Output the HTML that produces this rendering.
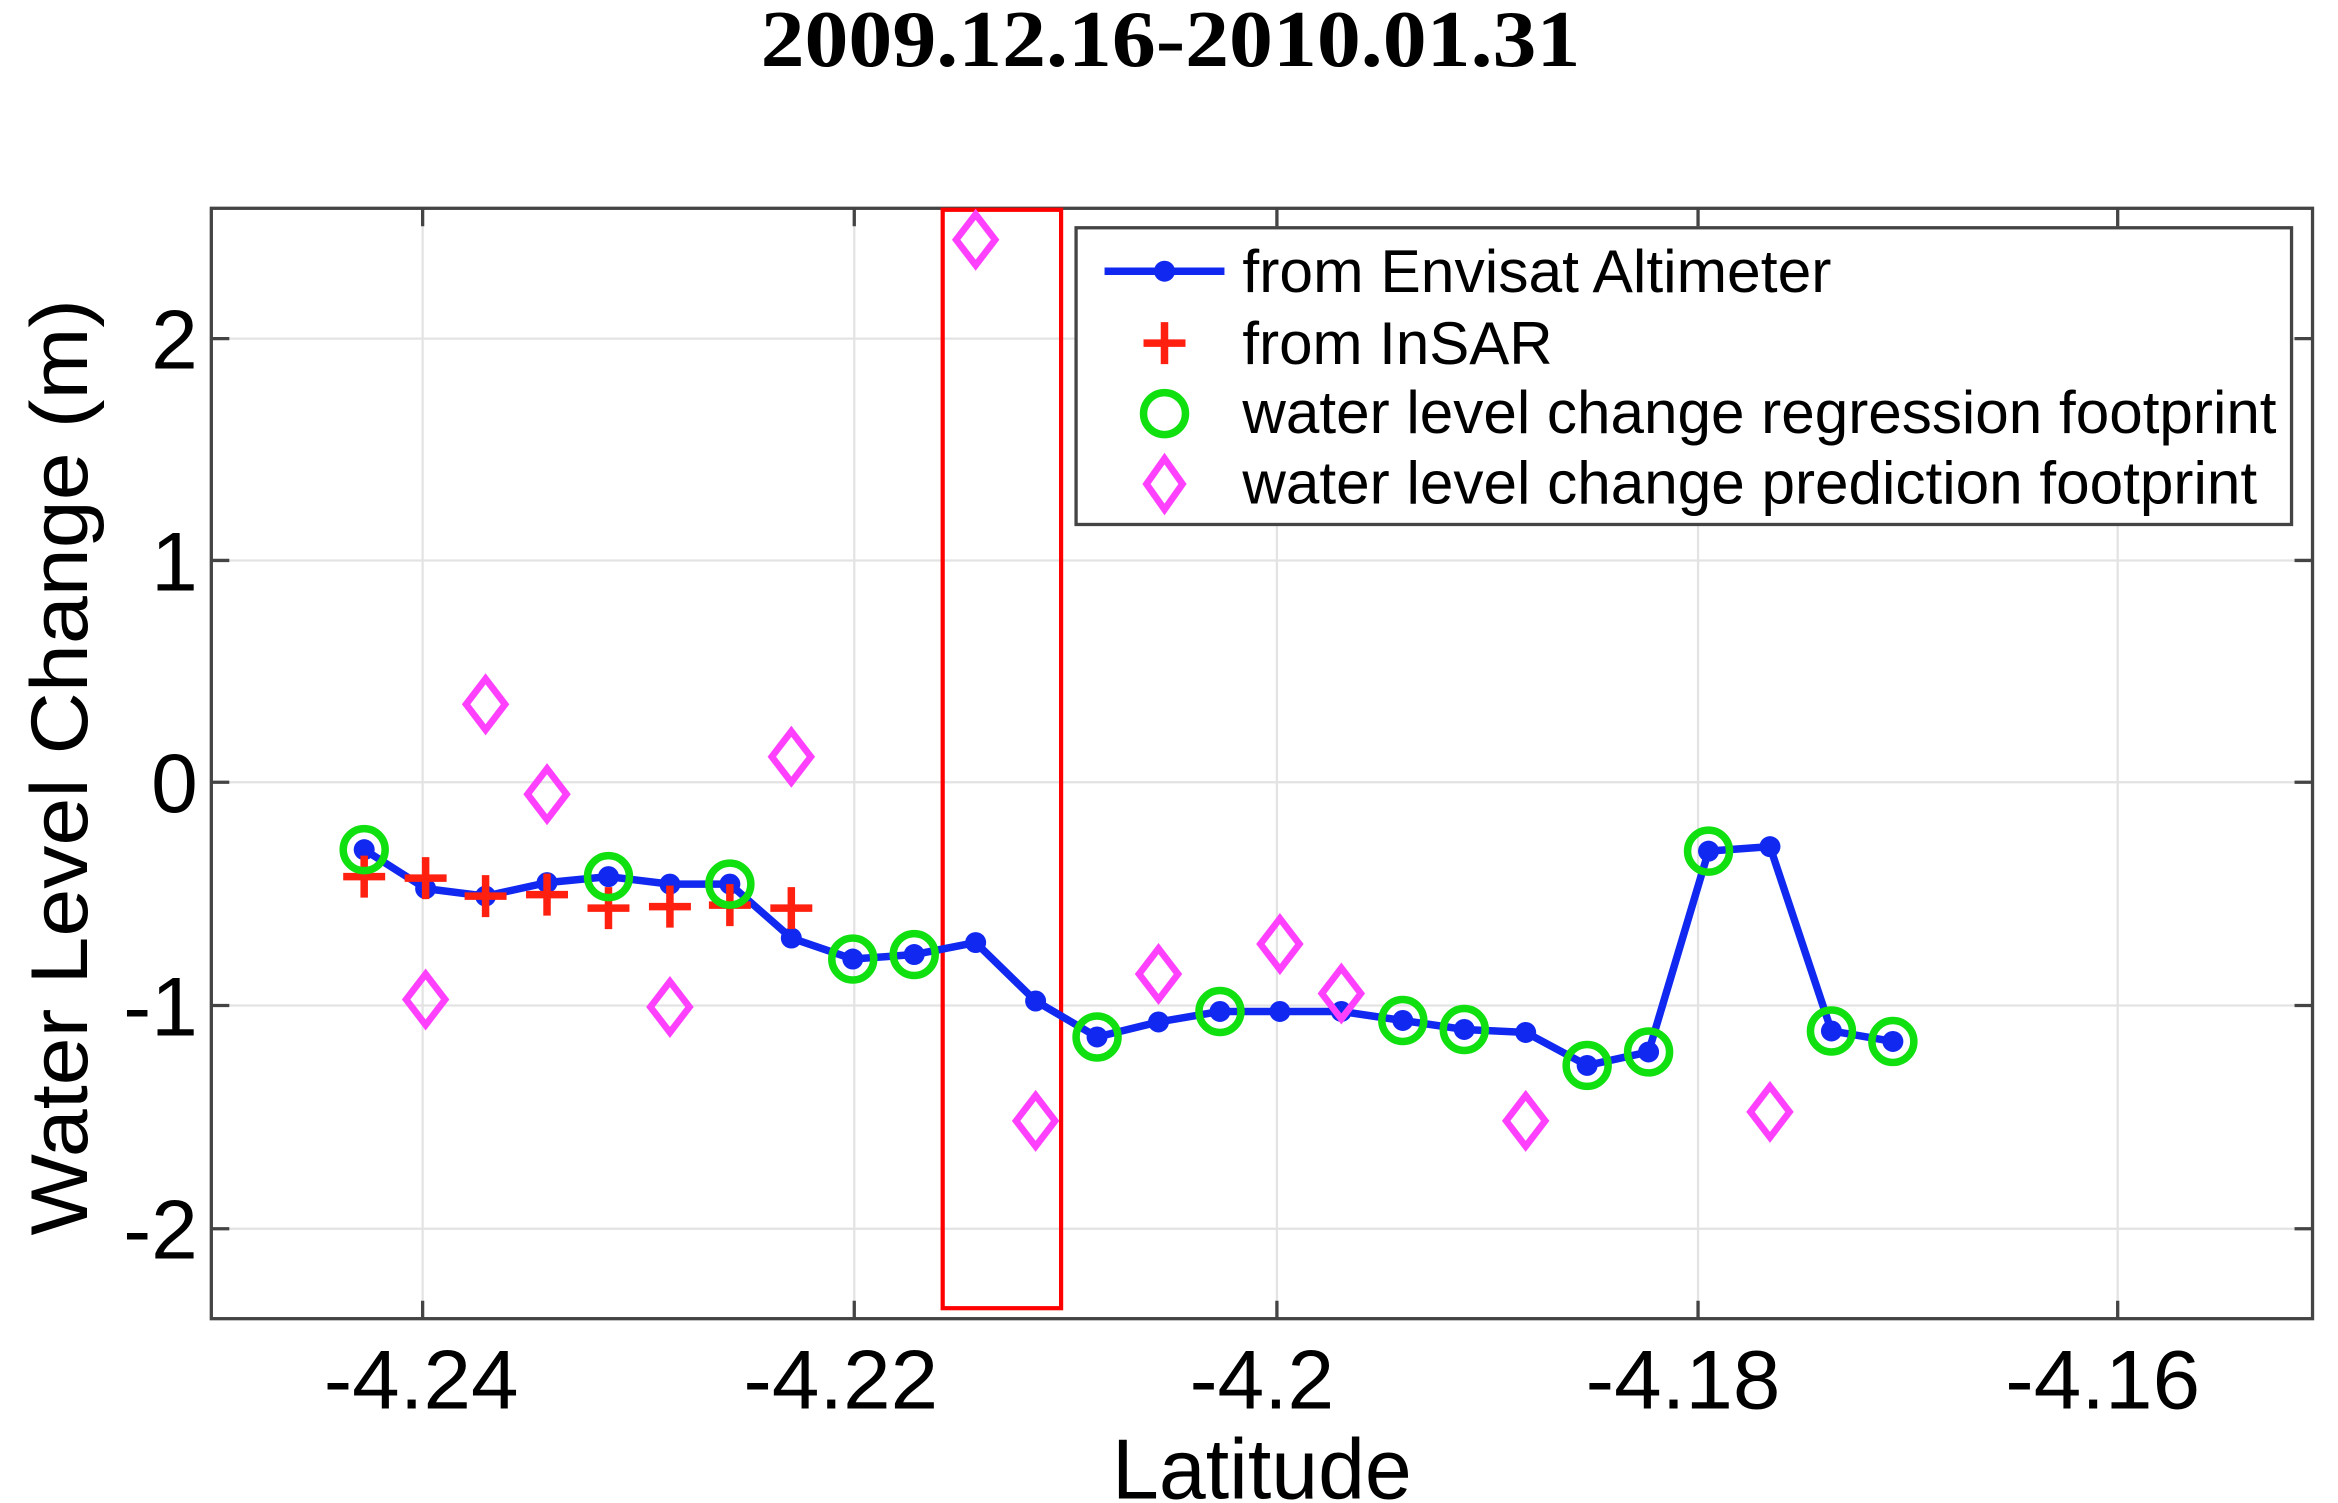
<!DOCTYPE html>
<html><head><meta charset="utf-8"><style>html,body{margin:0;padding:0;background:#fff}svg{display:block}</style></head>
<body>
<svg width="2338" height="1503" viewBox="0 0 1560 1003" preserveAspectRatio="none" xmlns="http://www.w3.org/2000/svg" font-family="Liberation Sans, Arial, sans-serif">
<rect width="1560" height="1003" fill="#fff"/>
<text x="781" y="44" text-anchor="middle" font-family="Liberation Serif, serif" font-weight="bold" font-size="54" textLength="547" lengthAdjust="spacingAndGlyphs">2009.12.16-2010.01.31</text>
<g stroke="#e3e3e3" stroke-width="1.5">
<line x1="282" y1="140" x2="282" y2="880"/><line x1="570" y1="140" x2="570" y2="880"/><line x1="852" y1="140" x2="852" y2="880"/><line x1="1133" y1="140" x2="1133" y2="880"/><line x1="1413" y1="140" x2="1413" y2="880"/>
<line x1="141" y1="226" x2="1543" y2="226"/><line x1="141" y1="374" x2="1543" y2="374"/><line x1="141" y1="522" x2="1543" y2="522"/><line x1="141" y1="671" x2="1543" y2="671"/><line x1="141" y1="820" x2="1543" y2="820"/>
</g>
<g stroke="#444" stroke-width="2.2">
<rect x="141" y="139" width="1402" height="741" fill="none"/>
<path d="M282 880v-12M570 880v-12M852 880v-12M1133 880v-12M1413 880v-12M282 139v12M570 139v12M852 139v12M1133 139v12M1413 139v12M141 226h12M141 374h12M141 522h12M141 671h12M141 820h12M1543 226h-12M1543 374h-12M1543 522h-12M1543 671h-12M1543 820h-12"/>
</g>
<g font-size="56" text-anchor="middle">
<text x="281" y="940" textLength="130" lengthAdjust="spacingAndGlyphs">-4.24</text><text x="561" y="940" textLength="130" lengthAdjust="spacingAndGlyphs">-4.22</text><text x="842" y="940">-4.2</text><text x="1123" y="940" textLength="130" lengthAdjust="spacingAndGlyphs">-4.18</text><text x="1403" y="940" textLength="130" lengthAdjust="spacingAndGlyphs">-4.16</text>
<text x="842" y="1000" font-size="57" textLength="200" lengthAdjust="spacingAndGlyphs">Latitude</text>
</g>
<g font-size="56" text-anchor="end">
<text x="132" y="246">2</text><text x="132" y="394">1</text><text x="132" y="542">0</text><text x="132" y="691">-1</text><text x="132" y="840">-2</text>
</g>
<text transform="translate(58,512) rotate(-90)" text-anchor="middle" font-size="54" textLength="625" lengthAdjust="spacingAndGlyphs">Water Level Change (m)</text>
<rect x="629" y="140" width="79" height="733" fill="none" stroke="#f00" stroke-width="2.8"/>
<polyline fill="none" stroke="#1028f0" stroke-width="5" stroke-linejoin="round" points="243,567 284,593 324,598 365,589 406,585 447,590 487,590 528,626 569,640 610,637 651,629 691,668 732,692 773,682 814,675 854,675 895,675 936,681 977,687 1018,689 1059,711 1100,702 1140,568 1181,565 1222,688 1263,695"/>
<g fill="#1028f0">
<circle cx="243" cy="567" r="7"/><circle cx="284" cy="593" r="7"/><circle cx="324" cy="598" r="7"/><circle cx="365" cy="589" r="7"/><circle cx="406" cy="585" r="7"/><circle cx="447" cy="590" r="7"/><circle cx="487" cy="590" r="7"/><circle cx="528" cy="626" r="7"/><circle cx="569" cy="640" r="7"/><circle cx="610" cy="637" r="7"/><circle cx="651" cy="629" r="7"/><circle cx="691" cy="668" r="7"/><circle cx="732" cy="692" r="7"/><circle cx="773" cy="682" r="7"/><circle cx="814" cy="675" r="7"/><circle cx="854" cy="675" r="7"/><circle cx="895" cy="675" r="7"/><circle cx="936" cy="681" r="7"/><circle cx="977" cy="687" r="7"/><circle cx="1018" cy="689" r="7"/><circle cx="1059" cy="711" r="7"/><circle cx="1100" cy="702" r="7"/><circle cx="1140" cy="568" r="7"/><circle cx="1181" cy="565" r="7"/><circle cx="1222" cy="688" r="7"/><circle cx="1263" cy="695" r="7"/>
</g>
<g stroke="#ff2010" stroke-width="5" fill="none">
<path d="M229 585h28M243 571v28M270 586h28M284 572v28M310 598h28M324 584v28M351 597h28M365 583v28M392 606h28M406 592v28M433 605h28M447 591v28M473 604h28M487 590v28M514 606h28M528 592v28"/>
</g>
<g stroke="#10e010" stroke-width="5" fill="none">
<circle cx="243" cy="567" r="14"/><circle cx="406" cy="585" r="14"/><circle cx="487" cy="590" r="14"/><circle cx="569" cy="640" r="14"/><circle cx="610" cy="637" r="14"/><circle cx="732" cy="692" r="14"/><circle cx="814" cy="675" r="14"/><circle cx="936" cy="681" r="14"/><circle cx="977" cy="687" r="14"/><circle cx="1059" cy="711" r="14"/><circle cx="1100" cy="702" r="14"/><circle cx="1140" cy="568" r="14"/><circle cx="1222" cy="688" r="14"/><circle cx="1263" cy="695" r="14"/>
</g>
<g stroke="#ff40ff" stroke-width="4.5" fill="none">
<path d="M284 650l13 17l-13 17l-13-17z"/><path d="M324 453l13 17l-13 17l-13-17z"/><path d="M365 513l13 17l-13 17l-13-17z"/><path d="M447 655l13 17l-13 17l-13-17z"/><path d="M528 488l13 17l-13 17l-13-17z"/><path d="M651 143l13 17l-13 17l-13-17z"/><path d="M691 731l13 17l-13 17l-13-17z"/><path d="M773 633l13 17l-13 17l-13-17z"/><path d="M854 613l13 17l-13 17l-13-17z"/><path d="M895 646l13 17l-13 17l-13-17z"/><path d="M1018 731l13 17l-13 17l-13-17z"/><path d="M1181 725l13 17l-13 17l-13-17z"/>
</g>
<rect x="718" y="152" width="811" height="198" fill="#fff" stroke="#444" stroke-width="2.2"/>
<line x1="737" y1="181" x2="817" y2="181" stroke="#1028f0" stroke-width="5"/>
<circle cx="777" cy="181" r="7" fill="#1028f0"/>
<path d="M763 229h28M777 215v28" stroke="#ff2010" stroke-width="5"/>
<circle cx="777" cy="276" r="14" stroke="#10e010" stroke-width="5" fill="none"/>
<path d="M777 306l12 17l-12 17l-12-17z" stroke="#ff40ff" stroke-width="4.5" fill="none"/>
<g font-size="40">
<text x="829" y="195" textLength="393" lengthAdjust="spacingAndGlyphs">from Envisat Altimeter</text>
<text x="829" y="243" textLength="207" lengthAdjust="spacingAndGlyphs">from InSAR</text>
<text x="829" y="289" textLength="690" lengthAdjust="spacingAndGlyphs">water level change regression footprint</text>
<text x="829" y="336" textLength="677" lengthAdjust="spacingAndGlyphs">water level change prediction footprint</text>
</g>
</svg>
</body></html>
